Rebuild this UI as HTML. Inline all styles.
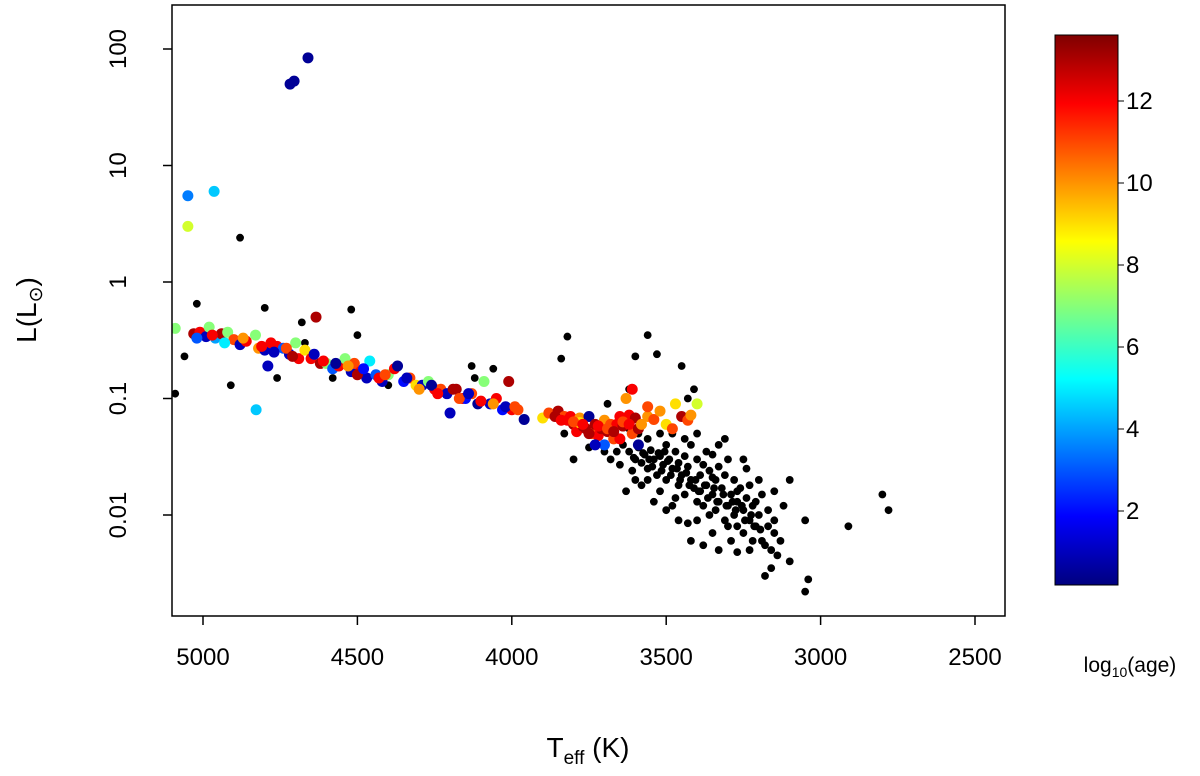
<!DOCTYPE html>
<html><head><meta charset="utf-8"><style>
html,body{margin:0;padding:0;background:#fff;}
svg{display:block;font-family:"Liberation Sans",Arial,sans-serif;}
</style></head><body>
<svg id="chart" width="1200" height="776" viewBox="0 0 1200 776" xmlns="http://www.w3.org/2000/svg">
<defs>
<linearGradient id="jet" x1="0" y1="1" x2="0" y2="0">
<stop offset="0" stop-color="#00007F"/><stop offset="0.125" stop-color="#0000FF"/>
<stop offset="0.375" stop-color="#00FFFF"/><stop offset="0.625" stop-color="#FFFF00"/>
<stop offset="0.875" stop-color="#FF0000"/><stop offset="1" stop-color="#7F0000"/>
</linearGradient>
<clipPath id="plotclip"><rect x="172" y="5" width="833" height="611"/></clipPath>
</defs>
<g id="points" clip-path="url(#plotclip)"></g>
<rect x="172" y="5" width="833" height="611" fill="none" stroke="#000" stroke-width="1.5"/>
<g id="axes"></g>
<rect x="1055" y="35" width="63" height="550" fill="url(#jet)" stroke="#000" stroke-width="1"/>
<g id="cbar"></g>
<text x="1130" y="672" font-size="21" text-anchor="middle">log<tspan font-size="14" dy="5">10</tspan><tspan dy="-5">(age)</tspan></text>
<text x="588" y="757" font-size="28" text-anchor="middle">T<tspan font-size="19" dy="7">eff</tspan><tspan dy="-7"> (K)</tspan></text>
<text transform="translate(36,310) rotate(-90)" font-size="28" text-anchor="middle">L(L<tspan font-size="19" dy="6">⊙</tspan><tspan dy="-6">)</tspan></text>
</svg>
<script>
const xTicks=[5000,4500,4000,3500,3000,2500];
const yTicks=[100,10,1,0.1,0.01];
const yTickLabels=["100","10","1","0.1","0.01"];
const cbTicks=[2,4,6,8,10,12];
const ageMin=0.2, ageMax=13.6;
const colT=[4718,4705,4660,5049,4964,5049,4828,4634,5090,5030,5010,4990,4980,4960,4940,4920,4900,4880,4860,4830,4820,4800,4790,4780,4760,4740,4720,4700,4690,4670,4650,4620,4600,4580,4560,4540,4520,4510,4490,4470,4460,4440,4420,4400,4380,4370,4350,4330,4310,4290,4270,4250,4230,4210,4200,4180,4160,4150,4130,4110,4090,4070,4050,4030,4010,4000,3980,3960,3900,3880,3850,3830,3810,3800,3790,3780,3770,3760,3750,3740,3730,3720,3710,3700,3690,3680,3670,3660,3650,3640,3630,3620,3610,3600,3610,3590,3560,3540,3520,3500,3480,3470,3450,3430,3420,3400,3700,3730,3780,3820,3650,3560,5020,4970,4930,4870,4810,4770,4730,4710,4640,4610,4570,4530,4500,4480,4430,4410,4340,4300,4260,4240,4190,4170,4140,4100,4060,4020,3990,3860,3840,3800,3770,3750,3720,3690,3670,3640,3620,3590,3580];
const colL=[50,53,84,5.5,6,3,0.08,0.5,0.4,0.36,0.37,0.34,0.41,0.33,0.36,0.37,0.32,0.29,0.31,0.35,0.27,0.26,0.19,0.3,0.28,0.27,0.24,0.3,0.22,0.26,0.22,0.2,0.2,0.18,0.19,0.22,0.17,0.2,0.17,0.15,0.21,0.16,0.14,0.16,0.18,0.19,0.14,0.15,0.13,0.13,0.14,0.12,0.12,0.11,0.075,0.12,0.1,0.1,0.11,0.09,0.14,0.09,0.1,0.08,0.14,0.08,0.08,0.066,0.068,0.075,0.078,0.07,0.07,0.06,0.052,0.068,0.058,0.055,0.07,0.05,0.06,0.048,0.055,0.065,0.052,0.06,0.045,0.06,0.07,0.058,0.1,0.072,0.05,0.068,0.12,0.04,0.07,0.066,0.078,0.06,0.055,0.09,0.07,0.065,0.072,0.09,0.04,0.04,0.062,0.065,0.045,0.085,0.33,0.35,0.3,0.33,0.28,0.25,0.27,0.23,0.24,0.21,0.2,0.19,0.16,0.18,0.15,0.16,0.15,0.12,0.13,0.11,0.12,0.1,0.11,0.095,0.09,0.085,0.085,0.07,0.065,0.063,0.06,0.05,0.058,0.055,0.052,0.063,0.06,0.055,0.06];
const colAge=[0.5,0.5,0.5,3.5,4.5,8,4.5,13,7,13,12,1,7,4,13,7,11,1,12,7,10,1,1,12,12,3,1,7,12,9,12,13,7,3,12,7,1,11,12,1,5,3,1,7,12,0.5,2,11,9,1,7,12,11,1,1,13,12,2,11,0.5,7,1,12,2,13,12,11,0.5,9,11,13,11,12,13,12,10,13,13,0.5,11,13,12,13,10,13,11,11,12,12,13,10,12,11,13,12,0.5,10,11,10,9,11,9,13,11,10,8,3,1,9,12,12,11,3,12,5,10,12,1,11,13,1,12,0.5,10,13,2,12,11,1,10,0.5,12,13,11,1,12,10,1,11,13,12,11,12,13,12,11,13,11,12,13,10];
const blkT=[5090,5060,5020,4910,4880,4800,4760,4680,4670,4520,4500,4580,4400,4130,4120,4060,3840,3820,3600,3560,3530,3620,3450,3410,3690,3430,2800,2780,2910,3050,3150,3040,3050,3100,3180,3640,3620,3600,3590,3580,3570,3560,3550,3540,3530,3520,3510,3500,3500,3490,3480,3470,3460,3460,3450,3440,3440,3430,3420,3420,3410,3400,3400,3390,3380,3380,3370,3360,3360,3350,3350,3340,3340,3330,3330,3320,3310,3310,3300,3300,3290,3280,3280,3270,3270,3260,3250,3250,3240,3240,3230,3220,3220,3210,3200,3190,3180,3170,3160,3150,3140,3130,3160,3230,3300,3350,3400,3480,3520,3560,3610,3660,3700,3750,3800,3830,3680,3650,3600,3630,3580,3540,3500,3460,3420,3380,3330,3290,3270,3370,3440,3480,3400,3330,3310,3250,3200,3190,3120,3100,3430,3470,3390,3350,3270,3230,3210,3170,3150,3560,3590,3620,3520,3545,3515,3485,3455,3425,3395,3365,3335,3305,3275,3245,3215,3525,3495,3465,3435,3405,3375,3345,3315,3285,3255,3225,3195,3575,3605,3555,3505];
const blkL=[0.11,0.23,0.65,0.13,2.4,0.6,0.15,0.45,0.3,0.58,0.35,0.15,0.13,0.19,0.15,0.18,0.22,0.34,0.23,0.35,0.24,0.12,0.19,0.12,0.09,0.1,0.015,0.011,0.008,0.009,0.016,0.0028,0.0022,0.004,0.003,0.04,0.035,0.03,0.038,0.028,0.033,0.025,0.036,0.03,0.022,0.032,0.027,0.02,0.04,0.03,0.025,0.035,0.018,0.028,0.022,0.032,0.015,0.026,0.02,0.04,0.017,0.03,0.013,0.022,0.027,0.012,0.018,0.024,0.01,0.015,0.033,0.02,0.011,0.013,0.026,0.017,0.009,0.022,0.012,0.03,0.015,0.01,0.02,0.008,0.013,0.017,0.007,0.011,0.014,0.025,0.009,0.006,0.012,0.008,0.01,0.006,0.0055,0.008,0.005,0.007,0.0045,0.006,0.0035,0.005,0.008,0.007,0.009,0.012,0.016,0.02,0.024,0.035,0.035,0.038,0.03,0.05,0.03,0.027,0.02,0.016,0.018,0.013,0.011,0.009,0.006,0.0055,0.005,0.006,0.0048,0.035,0.045,0.05,0.05,0.04,0.045,0.03,0.02,0.015,0.012,0.02,0.0085,0.014,0.016,0.021,0.016,0.018,0.013,0.011,0.009,0.045,0.05,0.055,0.05,0.026,0.024,0.022,0.02,0.018,0.016,0.014,0.013,0.012,0.011,0.009,0.008,0.034,0.029,0.025,0.023,0.02,0.018,0.017,0.015,0.013,0.012,0.01,0.0075,0.034,0.031,0.03,0.035];
const NS='http://www.w3.org/2000/svg';
function xS(t){return 203+(5000-t)*154.4/500;}
function yS(l){return 282-Math.log10(l)*116.5;}
function cS(a){return 511-(a-2)*41;}
function jet(v){v=Math.max(0,Math.min(1,v));
 const r=Math.min(1,Math.max(0,1.5-Math.abs(4*v-3))),g=Math.min(1,Math.max(0,1.5-Math.abs(4*v-2))),b=Math.min(1,Math.max(0,1.5-Math.abs(4*v-1)));
 return 'rgb('+Math.round(r*255)+','+Math.round(g*255)+','+Math.round(b*255)+')';}
function mk(tag,attrs,parent){const e=document.createElementNS(NS,tag);for(const k in attrs)e.setAttribute(k,attrs[k]);parent.appendChild(e);return e;}
const pts=document.getElementById('points');
for(let i=0;i<blkT.length;i++){const c=mk('circle',{cx:xS(blkT[i]),cy:yS(blkL[i]),r:3.9,fill:'#000'},pts);

}
for(let i=0;i<colT.length;i++){const c=mk('circle',{cx:xS(colT[i]),cy:yS(colL[i]),r:5.5,fill:jet((colAge[i]-ageMin)/(ageMax-ageMin))},pts);

}
const ax=document.getElementById('axes');
xTicks.forEach(t=>{const x=xS(t);mk('line',{x1:x,x2:x,y1:616,y2:625,stroke:'#000','stroke-width':1.5},ax);
const tx=mk('text',{x:x,y:665,'font-size':24,'text-anchor':'middle'},ax);tx.textContent=t;

});
yTicks.forEach((v,i)=>{const y=yS(v);mk('line',{x1:163,x2:172,y1:y,y2:y,stroke:'#000','stroke-width':1.5},ax);
const tx=mk('text',{transform:'translate(126,'+y+') rotate(-90)','font-size':24,'text-anchor':'middle'},ax);tx.textContent=yTickLabels[i];

});
const cb=document.getElementById('cbar');
cbTicks.forEach(v=>{const y=cS(v);mk('line',{x1:1118,x2:1124,y1:y,y2:y,stroke:'#000','stroke-width':1},cb);
const tx=mk('text',{x:1126,y:y+8,'font-size':24},cb);tx.textContent=v;

});
</script>
</body></html>
